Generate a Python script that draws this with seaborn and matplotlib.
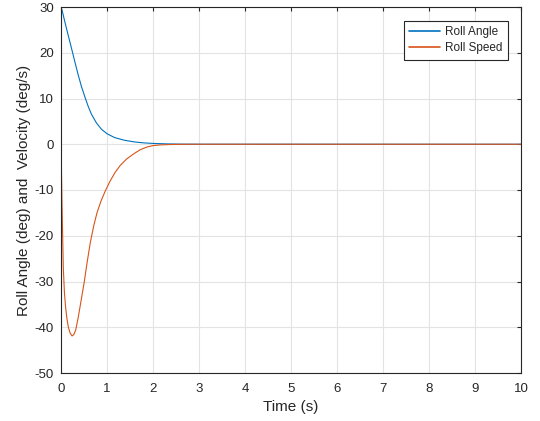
import numpy as np
import pandas as pd
import matplotlib
matplotlib.use("Agg")
import matplotlib.pyplot as plt
import seaborn as sns

# ---- data ----
angle_t = [0, 0.02, 0.04, 0.08, 0.152, 0.225, 0.297, 0.37, 0.442, 0.514, 0.587, 0.66,
           0.768, 0.877, 1.0, 1.167, 1.38, 1.6, 1.8, 2.0, 2.3, 2.6, 3.0, 10.0]
angle_v = [30, 29.4, 28.6, 26.9, 24.0, 21.1, 18.2, 15.3, 12.7, 10.5, 8.4, 6.6,
           4.7, 3.3, 2.3, 1.45, 0.87, 0.5, 0.3, 0.18, 0.08, 0.03, 0.01, 0.0]

speed_t = [0, 0.01, 0.02, 0.03, 0.05, 0.075, 0.1, 0.13, 0.16, 0.2, 0.24, 0.28, 0.32,
           0.377, 0.45, 0.507, 0.565, 0.637, 0.71, 0.782, 0.87, 0.963, 1.07, 1.18,
           1.29, 1.43, 1.58, 1.72, 1.87, 2.0, 2.15, 2.35, 2.6, 3.0, 10.0]
speed_v = [0, -6, -12, -17, -27, -32.5, -35.6, -38.2, -40, -41.3, -41.9, -41.6, -40.6,
           -37.7, -33.4, -30.0, -26.0, -21.5, -17.9, -15.0, -12.4, -10.2, -8.0, -6.1,
           -4.6, -3.2, -2.1, -1.2, -0.6, -0.3, -0.15, -0.06, -0.02, 0.0, 0.0]

series_names = ["Roll Angle", "Roll Speed"]
series_colors = ["#0072BD", "#D95319"]
x_ticks = list(range(0, 11))
y_ticks = list(range(-50, 31, 10))

df = pd.concat([
    pd.DataFrame({"t": angle_t, "v": angle_v, "s": series_names[0]}),
    pd.DataFrame({"t": speed_t, "v": speed_v, "s": series_names[1]}),
])

sns.set_style("white")
plt.rcParams["font.family"] = ["Liberation Sans", "DejaVu Sans"]
plt.rcParams["axes.unicode_minus"] = False

fig = plt.figure(figsize=(5.4, 4.21), dpi=100)
ax = fig.add_axes([61/540, (421-373)/421, (521-61)/540, (373-7)/421])

sns.lineplot(data=df, x="t", y="v", hue="s", palette=series_colors,
             hue_order=series_names, ax=ax, linewidth=0.8, sort=False,
             estimator=None)

ax.set_xlim(0, 10)
ax.set_ylim(-50, 30)
ax.set_xticks(x_ticks)
ax.set_yticks(y_ticks)
ax.grid(True, color="#e3e3e3", linewidth=0.8)
ax.set_axisbelow(True)
for sp in ax.spines.values():
    sp.set_color("#262626")
    sp.set_linewidth(0.8)
    sp.set_visible(True)
ax.tick_params(direction="in", length=3, width=0.8, colors="#262626",
               labelsize=9.5, top=True, right=True)
ax.tick_params(axis="x", pad=7)
ax.tick_params(axis="y", pad=5)
ax.set_xlabel("Time (s)", fontsize=11, color="#262626", labelpad=4)
ax.set_ylabel("Roll Angle (deg) and  Velocity (deg/s)", fontsize=11,
              color="#262626", labelpad=3)

leg = ax.legend(loc="upper right", bbox_to_anchor=(0.971, 0.962),
                borderaxespad=0, fancybox=False, edgecolor="#262626",
                framealpha=1, fontsize=8.5, handlelength=2.6, handletextpad=0.45,
                borderpad=0.45, labelspacing=0.35)
leg.get_frame().set_linewidth(0.8)
for line in leg.get_lines():
    line.set_linewidth(1.2)

fig.savefig("out.png", dpi=100)
